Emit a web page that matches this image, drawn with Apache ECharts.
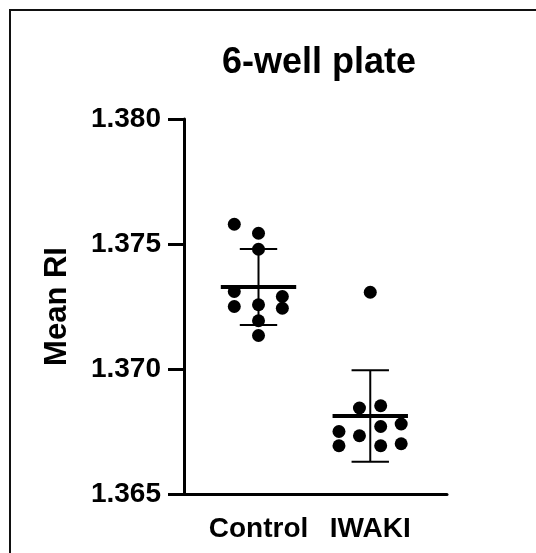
<!DOCTYPE html>
<html>
<head>
<meta charset="utf-8">
<script src="https://cdn.jsdelivr.net/npm/echarts@6/dist/echarts.min.js"></script>
<style>html,body{margin:0;padding:0;background:#fff}#c{width:536px;height:553px}</style>
</head>
<body>
<div id="c"></div>
<script>
const titleText = '6-well plate';
const yAxisTitle = 'Mean RI';
const categories = ['Control', 'IWAKI'];
const categoryPos = [2, 5];
const controlRI = [1.37579, 1.37543, 1.37479, 1.37310, 1.37250, 1.37257, 1.37193, 1.37134, 1.37290, 1.37243];
const controlJitter = [-0.65, 0, 0, -0.65, -0.65, 0, 0, 0, 0.64, 0.64];
const iwakiRI = [1.36844, 1.36853, 1.36750, 1.36693, 1.36733, 1.36770, 1.36693, 1.36780, 1.36701, 1.37307];
const iwakiJitter = [-0.29, 0.28, -0.84, -0.84, -0.29, 0.28, 0.28, 0.83, 0.83, 0];
const yMin = 1.365, yMax = 1.380, yStep = 0.005;

function mean(a) { return a.reduce((s, v) => s + v, 0) / a.length; }
function sd(a) { const m = mean(a); return Math.sqrt(a.reduce((s, v) => s + (v - m) * (v - m), 0) / (a.length - 1)); }

const groups = [controlRI, iwakiRI];
const jitters = [controlJitter, iwakiJitter];
const pointData = [];
groups.forEach((vals, g) => vals.forEach((v, i) => pointData.push([categoryPos[g] + jitters[g][i], v])));
const summaryData = groups.map((vals, g) => [categoryPos[g], mean(vals), sd(vals)]);

const FONT = 'Liberation Sans, Arial, Helvetica, sans-serif';
const chart = echarts.init(document.getElementById('c'));
chart.setOption({
  animation: false,
  backgroundColor: '#fff',
  title: {
    text: titleText, left: 314, top: 40, textAlign: 'center',
    textStyle: { fontFamily: FONT, fontWeight: 'bold', fontSize: 36, color: '#000' }
  },
  graphic: [{
    type: 'rect', shape: { x: 10, y: 10, width: 700, height: 700 },
    style: { fill: 'none', stroke: '#111', lineWidth: 2 }, silent: true, z: -1
  }],
  grid: { left: 184, right: 89, top: 119, bottom: 59, containLabel: false },
  xAxis: {
    type: 'value', min: 0, max: 7.06, interval: 1,
    axisLine: { show: true, lineStyle: { color: '#000', width: 3 } },
    axisTick: { show: false },
    splitLine: { show: false },
    axisLabel: {
      margin: 21, color: '#000', fontFamily: FONT, fontWeight: 'bold', fontSize: 28,
      showMinLabel: true, showMaxLabel: true,
      formatter: v => { const i = categoryPos.indexOf(Math.round(v * 100) / 100); return i >= 0 ? categories[i] : ''; }
    }
  },
  yAxis: {
    type: 'value', min: yMin, max: yMax, interval: yStep,
    name: yAxisTitle, nameLocation: 'middle', nameGap: 111,
    nameTextStyle: { fontFamily: FONT, fontWeight: 'bold', fontSize: 31, color: '#000' },
    axisLine: { show: true, lineStyle: { color: '#000', width: 3 } },
    axisTick: { show: true, length: 16, lineStyle: { color: '#000', width: 3 } },
    splitLine: { show: false },
    axisLabel: {
      margin: 23, color: '#000', fontFamily: FONT, fontWeight: 'bold', fontSize: 28,
      formatter: v => v.toFixed(3)
    }
  },
  series: [
    {
      type: 'scatter', data: pointData, symbol: 'circle', symbolSize: 13,
      itemStyle: { color: '#000', opacity: 1 }, z: 2
    },
    {
      type: 'custom', data: summaryData, z: 3,
      renderItem: (params, api) => {
        const x = api.value(0), m = api.value(1), s = api.value(2);
        const c = api.coord([x, m]);
        const t = api.coord([x, m + s]);
        const b = api.coord([x, m - s]);
        const st = { stroke: '#000', lineWidth: 2 };
        return {
          type: 'group', children: [
            { type: 'line', shape: { x1: c[0], y1: t[1], x2: c[0], y2: b[1] }, style: st },
            { type: 'line', shape: { x1: c[0] - 18.7, y1: t[1], x2: c[0] + 18.7, y2: t[1] }, style: st },
            { type: 'line', shape: { x1: c[0] - 18.7, y1: b[1], x2: c[0] + 18.7, y2: b[1] }, style: st },
            { type: 'line', shape: { x1: c[0] - 37.7, y1: c[1], x2: c[0] + 37.7, y2: c[1] }, style: { stroke: '#000', lineWidth: 4 } }
          ]
        };
      }
    }
  ]
});
</script>
</body>
</html>
